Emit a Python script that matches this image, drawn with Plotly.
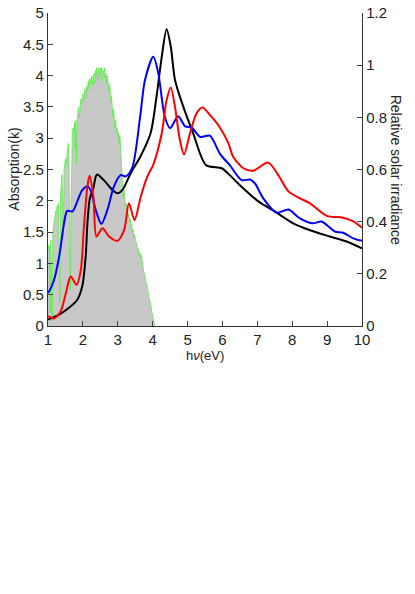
import plotly.graph_objects as go

# Absorption curves (left axis)
black_ev = [1.0, 1.03, 1.32, 1.60, 1.84, 1.98, 2.08, 2.13, 2.20, 2.30, 2.37, 2.41, 2.60, 2.80,
            2.99, 3.13, 3.37, 3.66, 3.94, 4.11, 4.26, 4.40, 4.52, 4.64, 4.88, 5.16, 5.53,
            5.98, 6.21, 6.50, 7.03, 7.50, 8.03, 8.51, 9.08, 9.56, 10.0]
black_k = [0.10, 0.11, 0.18, 0.29, 0.42, 0.63, 1.11, 1.64, 2.04, 2.20, 2.39, 2.42, 2.33, 2.20,
           2.12, 2.17, 2.44, 2.72, 3.08, 3.66, 4.30, 4.74, 4.46, 3.93, 3.50, 3.08, 2.57,
           2.52, 2.41, 2.25, 1.99, 1.83, 1.64, 1.53, 1.43, 1.35, 1.24]

blue_ev = [1.0, 1.03, 1.17, 1.32, 1.46, 1.55, 1.70, 1.84, 1.98, 2.13, 2.22, 2.37, 2.53, 2.70,
           2.89, 3.08, 3.23, 3.42, 3.64, 3.78, 4.02, 4.16, 4.35, 4.50, 4.73, 4.93, 5.12,
           5.36, 5.64, 5.93, 6.21, 6.55, 6.79, 6.93, 7.17, 7.55, 7.89, 8.22, 8.60, 8.84,
           9.22, 9.46, 9.75, 10.0]
blue_k = [0.53, 0.55, 0.73, 1.11, 1.64, 1.84, 1.83, 1.99, 2.17, 2.23, 2.17, 1.85, 1.63, 1.85,
          2.23, 2.41, 2.39, 2.54, 3.34, 3.93, 4.30, 4.04, 3.34, 3.16, 3.35, 3.19, 3.17,
          3.02, 3.04, 2.75, 2.57, 2.33, 2.34, 2.28, 2.04, 1.81, 1.86, 1.72, 1.64, 1.67,
          1.51, 1.49, 1.40, 1.36]

red_ev = [1.0, 1.03, 1.17, 1.36, 1.51, 1.65, 1.82, 1.94, 2.03, 2.13, 2.19, 2.30, 2.39, 2.56,
          2.75, 2.99, 3.18, 3.32, 3.48, 3.66, 3.85, 4.02, 4.26, 4.40, 4.52, 4.64, 4.78,
          4.90, 5.07, 5.26, 5.43, 5.64, 5.88, 6.17, 6.31, 6.60, 6.88, 7.31, 7.60, 7.89,
          8.22, 8.51, 8.99, 9.46, 9.75, 10.0]
red_k = [0.15, 0.15, 0.12, 0.23, 0.52, 0.79, 0.66, 0.89, 1.59, 2.23, 2.40, 2.07, 1.43, 1.56,
         1.43, 1.36, 1.53, 1.96, 1.69, 2.07, 2.39, 2.58, 3.08, 3.61, 3.81, 3.50, 2.97,
         2.74, 3.08, 3.40, 3.49, 3.37, 3.21, 2.92, 2.70, 2.52, 2.48, 2.61, 2.41, 2.15,
         2.04, 1.96, 1.76, 1.73, 1.67, 1.57]

# Relative solar irradiance (right axis), sampled every 0.02 eV from 1.00 eV
solar_irr = [
    0.29, 0.31, 0.30, 0.05, 0.33, 0.12, 0.02, 0.36, 0.39, 0.40,
    0.42, 0.44, 0.43, 0.46, 0.45, 0.47, 0.30, 0.09, 0.50, 0.55,
    0.58, 0.45, 0.34, 0.60, 0.63, 0.64, 0.62, 0.66, 0.68, 0.70,
    0.66, 0.30, 0.14, 0.45, 0.72, 0.74, 0.76, 0.75, 0.78, 0.68,
    0.79, 0.62, 0.80, 0.83, 0.84, 0.80, 0.86, 0.87, 0.85, 0.88,
    0.89, 0.86, 0.90, 0.91, 0.87, 0.92, 0.90, 0.93, 0.94, 0.91,
    0.95, 0.93, 0.94, 0.96, 0.92, 0.96, 0.97, 0.93, 0.98, 0.96,
    0.99, 0.94, 0.99, 0.98, 0.95, 0.99, 0.97, 0.99, 0.94, 0.98,
    0.97, 0.99, 0.95, 0.97, 0.93, 0.96, 0.94, 0.90, 0.93, 0.91,
    0.86, 0.88, 0.84, 0.80, 0.83, 0.78, 0.76, 0.79, 0.74, 0.76,
    0.72, 0.74, 0.70, 0.73, 0.68, 0.64, 0.62, 0.55, 0.49, 0.52,
    0.48, 0.46, 0.47, 0.43, 0.45, 0.42, 0.43, 0.40, 0.41, 0.38,
    0.39, 0.36, 0.37, 0.34, 0.35, 0.33, 0.32, 0.31, 0.30, 0.30,
    0.28, 0.27, 0.28, 0.26, 0.27, 0.24, 0.23, 0.21, 0.20, 0.19,
    0.17, 0.16, 0.15, 0.14, 0.12, 0.11, 0.09, 0.08, 0.07, 0.05,
    0.04, 0.02, 0.01, 0.0,
]
solar_ev = [round(1.0 + 0.02 * i, 2) for i in range(len(solar_irr))]

x_ticks = [1, 2, 3, 4, 5, 6, 7, 8, 9, 10]
k_ticks = [0, 0.5, 1, 1.5, 2, 2.5, 3, 3.5, 4, 4.5, 5]
irr_ticks = [0, 0.2, 0.4, 0.6, 0.8, 1, 1.2]

fig = go.Figure()

# solar spectrum on the bottom layer (y), absorption on top (y2)
fig.add_trace(go.Scatter(x=solar_ev, y=solar_irr, yaxis='y', mode='lines',
                         line=dict(color='#55ee44', width=0.8),
                         fill='tozeroy', fillcolor='#c8c8c8', showlegend=False))

for xs, ys, col in [(black_ev, black_k, 'black'),
                    (blue_ev, blue_k, '#0000ff'),
                    (red_ev, red_k, '#ff0000')]:
    fig.add_trace(go.Scatter(x=xs, y=ys, yaxis='y2', mode='lines',
                             line=dict(color=col, width=2, shape='spline', smoothing=0.8),
                             showlegend=False))

font_name = 'Liberation Sans, Arial, sans-serif'
axis_font = dict(family=font_name, size=15, color='#222')
title_font = dict(family=font_name, size=14, color='#222')

fig.update_layout(
    width=415, height=594,
    margin=dict(l=48, r=53, t=13, b=268),
    paper_bgcolor='white', plot_bgcolor='white',
    xaxis=dict(range=[1, 10], tickvals=x_ticks, ticks='inside', ticklen=5,
               showline=True, linecolor='#333', linewidth=1.3, showgrid=False,
               zeroline=False, tickfont=axis_font, automargin=False),
    yaxis=dict(range=[0, 1.2], side='right', tickvals=irr_ticks,
               ticktext=['0', '0.2', '0.4', '0.6', '0.8', '1', '1.2'],
               ticks='inside', ticklen=5, showline=True, linecolor='#333',
               linewidth=1.3, showgrid=False, zeroline=False, tickfont=axis_font,
               automargin=False),
    yaxis2=dict(range=[0, 5], side='left', overlaying='y', tickvals=k_ticks,
                ticktext=['0', '0.5', '1', '1.5', '2', '2.5', '3', '3.5', '4', '4.5', '5'],
                ticks='inside', ticklen=5, showline=True, linecolor='#333',
                linewidth=1.3, showgrid=False, zeroline=False, tickfont=axis_font,
                automargin=False),
    annotations=[
        dict(text='Absorption(k)', xref='paper', yref='paper', x=-0.111, y=0.5,
             textangle=-90, showarrow=False, xanchor='center', yanchor='middle',
             font=title_font),
        dict(text='Relative solar irradiance', xref='paper', yref='paper', x=1.111, y=0.5,
             textangle=90, showarrow=False, xanchor='center', yanchor='middle',
             font=title_font),
        dict(text='h<i>ν</i>(eV)', xref='paper', yref='paper', x=0.5, y=-0.093,
             showarrow=False, xanchor='center', yanchor='middle',
             font=dict(family=font_name, size=13, color='#222')),
    ],
)

# drop the default 8px body margin so the figure sits flush in the window
fig.write_html("out.html", config={'displayModeBar': False},
               post_script="document.body.style.margin = '0';")
